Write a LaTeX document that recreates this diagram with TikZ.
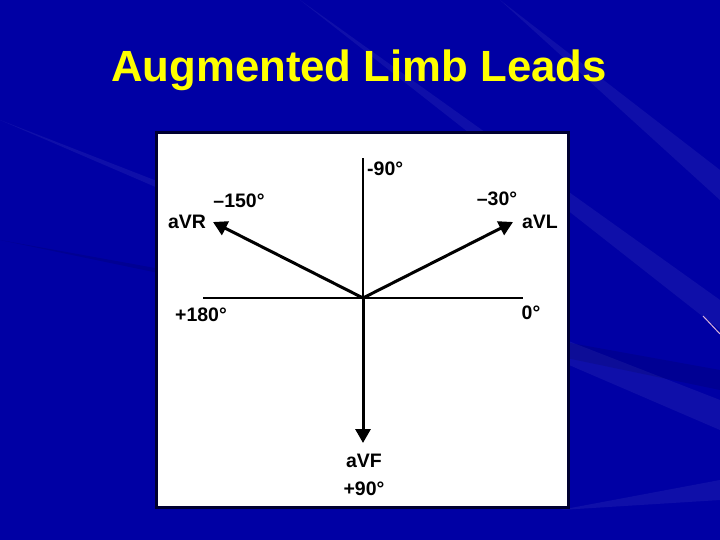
\documentclass[tikz,border=0pt]{standalone}
\usepackage{fontspec}
\setmainfont{Liberation Sans}
\usetikzlibrary{arrows.meta}
\definecolor{bgblue}{RGB}{0,0,164}
\definecolor{titleyellow}{RGB}{255,255,0}
\begin{document}
\begin{tikzpicture}[x=1pt,y=-1pt,
  axis/.style={line width=2pt,black},
  lead/.style={line width=3pt,black,-{Triangle[length=14pt,width=15pt]}},
  lbl/.style={font=\fontsize{19.5}{19.5}\selectfont\bfseries,inner sep=0pt,text=black},
  streak/.style={fill=white,opacity=0.06}]
\useasboundingbox (0,0) rectangle (720,540);
\fill[bgblue] (0,0) rectangle (720,540);
% background streaks
\fill[streak] (300,0) -- (720,300) -- (720,330) -- cycle;
\fill[streak] (500,0) -- (720,170) -- (720,200) -- cycle;
\fill[streak] (0,120) -- (720,430) -- (720,400) -- cycle;
\fill[streak] (560,510) -- (720,480) -- (720,500) -- cycle;
\fill[black,opacity=0.10] (0,240) -- (720,390) -- (720,370) -- cycle;
\draw[white!70!violet,line width=1pt] (703,316) -- (720,334);
% title
\node[font=\fontsize{43.7}{43.7}\selectfont\bfseries,text=titleyellow] (title) at (359,70) {Augmented Limb Leads};
% white panel
\fill[black!70!bgblue] (155,131) rectangle (570,509);
\fill[white] (158,134) rectangle (567,506);
% axes
\coordinate (O) at (363,298);
\coordinate (top) at (363,158);
\coordinate (left) at (203,298);
\coordinate (right) at (523,298);
\coordinate (bottom) at (363,443);
\coordinate (vr) at (213,222);
\coordinate (vl) at (513,222);
\draw[axis] (O) -- (top);
\draw[axis] (left) -- (right);
\draw[lead] (O) -- (bottom);
\draw[lead] (O) -- (vr);
\draw[lead] (O) -- (vl);
% labels
\node[lbl,anchor=west] (m90) at (367,169) {-90°};
\node[lbl] (m150) at (239,201) {–150°};
\node[lbl] (avr) at (187,222) {aVR};
\node[lbl] (m30) at (497,199) {–30°};
\node[lbl] (avl) at (540,222) {aVL};
\node[lbl] (p180) at (201,315) {+180°};
\node[lbl] (zero) at (531,313) {0°};
\node[lbl] (avf) at (364,461) {aVF};
\node[lbl] (p90) at (364,489) {+90°};
\end{tikzpicture}
\end{document}
